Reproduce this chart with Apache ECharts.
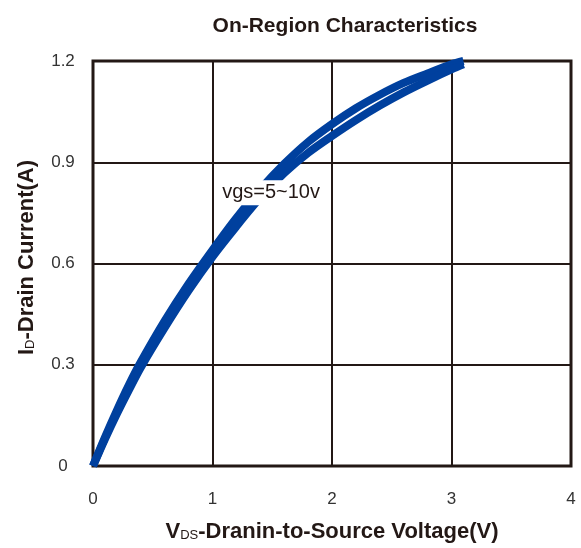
<!DOCTYPE html>
<html>
<head>
<meta charset="utf-8">
<script src="https://cdn.jsdelivr.net/npm/echarts@6/dist/echarts.min.js"></script>
<style>
html,body{margin:0;padding:0;background:#fff;}
#chart{width:581px;height:548px;}
</style>
</head>
<body>
<div id="chart"></div>
<script>
// Data
var vds = [0, 0.1, 0.2, 0.3, 0.4, 0.6, 0.8, 1.0, 1.2, 1.4, 1.6, 1.8, 2.0, 2.2, 2.4, 2.6, 2.8, 3.0, 3.1];
var idUpper = [0, 0.085, 0.165, 0.24, 0.308, 0.43, 0.54, 0.64, 0.735, 0.82, 0.895, 0.96, 1.013, 1.06, 1.1, 1.135, 1.163, 1.19, 1.2];
var idLower = [0, 0.08, 0.155, 0.225, 0.292, 0.41, 0.52, 0.62, 0.71, 0.795, 0.868, 0.928, 0.978, 1.025, 1.068, 1.107, 1.142, 1.175, 1.19];
var xTicks = [0, 1, 2, 3, 4];
var yTicks = [0, 0.3, 0.6, 0.9, 1.2];
var noteText = 'vgs=5~10v';
var notePos = [1.49, 0.81];

function pairs(xs, ys) { return xs.map(function (x, i) { return [x, ys[i]]; }); }

var ink = '#231815';
var blue = '#00409e';
var nameRich = {
  b: { fontSize: 22, fontWeight: 'bold', color: ink, fontFamily: 'Liberation Sans', lineHeight: 25, verticalAlign: 'bottom' },
  s: { fontSize: 13, color: ink, fontFamily: 'Liberation Sans', lineHeight: 25, verticalAlign: 'bottom', padding: [0, 0, 1, 0] }
};
var chart = echarts.init(document.getElementById('chart'), null, { renderer: 'canvas' });
chart.setOption({
  animation: false,
  backgroundColor: '#fff',
  title: {
    text: 'On-Region Characteristics',
    left: 340, top: 11, textAlign: 'center',
    textStyle: { fontFamily: 'Liberation Sans', fontWeight: 'bold', fontSize: 21, color: ink }
  },
  grid: { left: 93, right: 10, top: 61, bottom: 78, show: true, borderColor: ink, borderWidth: 3, backgroundColor: '#fff' },
  xAxis: {
    type: 'value', min: xTicks[0], max: xTicks[xTicks.length - 1], interval: 1,
    axisLine: { show: false }, axisTick: { show: false },
    splitLine: { show: true, lineStyle: { color: ink, width: 2 } },
    axisLabel: { margin: 25, fontSize: 17, color: '#333', fontFamily: 'Liberation Sans' },
    name: '{b|V}{s|DS}{b|-Dranin-to-Source Voltage(V)}',
    nameLocation: 'middle', nameGap: 52,
    nameTextStyle: { rich: nameRich }
  },
  yAxis: {
    type: 'value', min: yTicks[0], max: yTicks[yTicks.length - 1], interval: 0.3,
    axisLine: { show: false }, axisTick: { show: false },
    splitLine: { show: true, lineStyle: { color: ink, width: 2 } },
    axisLabel: { margin: 30, align: 'center', fontSize: 17, color: '#333', fontFamily: 'Liberation Sans',
      formatter: function (v) { return v === 0 ? '0' : v.toFixed(1); } },
    name: '{b|I}{s|D}{b|-Drain Current(A)}',
    nameLocation: 'middle', nameGap: 55, nameRotate: 90,
    nameTextStyle: { rich: nameRich, padding: [0, 0, 0, 12] }
  },
  series: [
    { type: 'line', data: pairs(vds, idUpper), smooth: 0.3, showSymbol: false, symbol: 'none', clip: false,
      lineStyle: { color: blue, width: 8, cap: 'butt' }, z: 3 },
    { type: 'line', data: pairs(vds, idLower), smooth: 0.3, showSymbol: false, symbol: 'none', clip: false,
      lineStyle: { color: blue, width: 8, cap: 'butt' }, z: 3 }
  ]
});
var p = chart.convertToPixel({ gridIndex: 0 }, notePos);
chart.setOption({
  graphic: [{
    type: 'text', x: p[0], y: p[1], z: 100,
    style: { text: noteText, fontSize: 20, fontFamily: 'Liberation Sans', fill: ink,
      align: 'center', verticalAlign: 'middle', backgroundColor: '#fff', padding: [3, 1, 2, 1] }
  }]
});
</script>
</body>
</html>
